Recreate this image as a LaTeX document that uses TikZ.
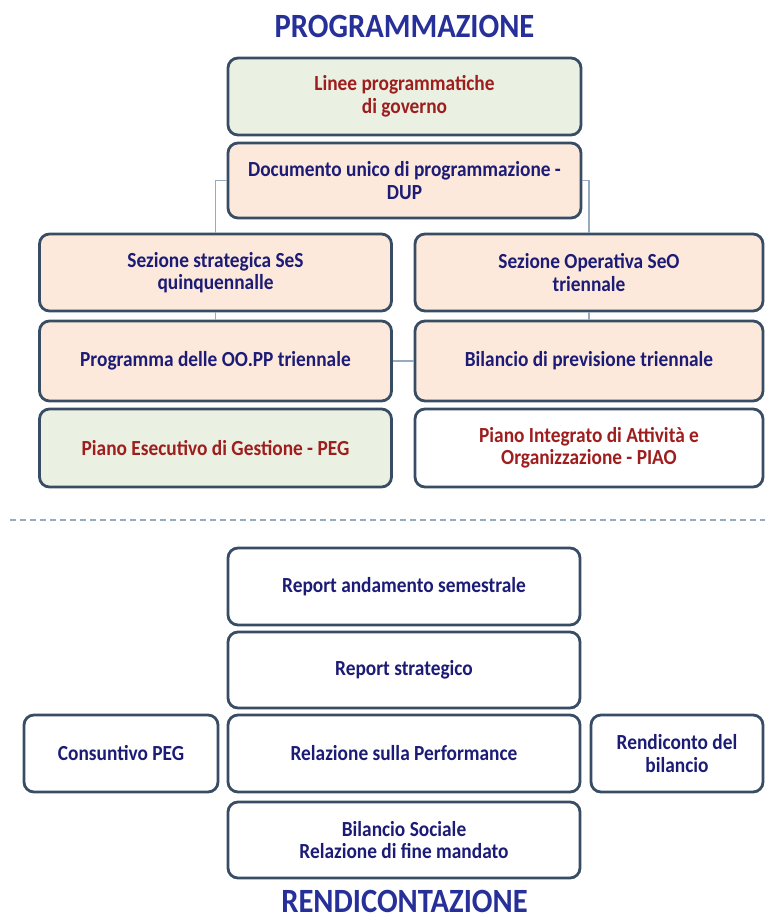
\documentclass[tikz,border=0pt]{standalone}
\usepackage{fontspec}
\setmainfont{Carlito}[FakeStretch=0.9]
\usepackage{xcolor}
\definecolor{boxLine}{RGB}{56,76,100}
\definecolor{navyText}{RGB}{28,28,118}
\definecolor{redText}{RGB}{158,30,30}
\definecolor{titleBlue}{RGB}{38,48,152}
\definecolor{greenFill}{RGB}{234,240,226}
\definecolor{peachFill}{RGB}{252,233,219}
\definecolor{linkLine}{RGB}{150,170,192}
\begin{document}
\begin{tikzpicture}[
  x=1pt, y=-1pt,
  boxStyle/.style={draw=boxLine, line width=2.8pt, rounded corners=10pt, align=center, inner sep=0pt, minimum height=77pt, font=\bfseries\fontsize{21.5}{22.5}\selectfont, text=navyText, fill=white},
  midBox/.style={boxStyle, minimum width=353pt},
  colBox/.style={boxStyle, minimum width=352pt},
  greenBox/.style={fill=greenFill, text=redText},
  peachBox/.style={fill=peachFill},
  linkStyle/.style={draw=linkLine, line width=1.2pt},
  titleStyle/.style={font=\bfseries\fontsize{34}{34}\selectfont, text=titleBlue}]

\useasboundingbox (0,0) rectangle (765,922);

\node [titleStyle] (progTitle) at (404.5,26) {PROGRAMMAZIONE};

\node [midBox, greenBox] (linee) at (404.5,96.5) {Linee programmatiche\\di governo};
\node [midBox, peachBox, minimum height=75pt] (dup) at (404.5,180.5) {Documento unico di programmazione -\\DUP};

\node [colBox, peachBox] (ses) at (215.5,272.5) {Sezione strategica SeS\\quinquennalle};
\node [colBox, peachBox, minimum height=80pt] (oopp) at (215.5,361) {Programma delle OO.PP triennale};
\node [colBox, greenBox, minimum height=78pt] (peg) at (215.5,448) {Piano Esecutivo di Gestione - PEG};

\node [colBox, peachBox, minimum width=348pt] (seo) at (589,272.5) {Sezione Operativa SeO\\triennale};
\node [colBox, peachBox, minimum width=348pt, minimum height=80pt] (bil) at (589,361) {Bilancio di previsione triennale};
\node [colBox, text=redText, minimum width=348pt, minimum height=78pt] (piao) at (589,448) {Piano Integrato di Attività e\\Organizzazione - PIAO};

\draw [linkStyle] (dup.west) -| (ses.north);
\draw [linkStyle] (dup.east) -| (seo.north);
\draw [linkStyle] (ses.south) -- (oopp.north);
\draw [linkStyle] (seo.south) -- (bil.north);
\draw [linkStyle] (oopp.east) -- (bil.west);

\coordinate (dashL) at (10,520);
\coordinate (dashR) at (765,520);
\draw [draw=linkLine, line width=1.5pt, dash pattern=on 6pt off 4pt] (dashL) -- (dashR);

\node [midBox, minimum width=352pt] (semestre) at (404,586.5) {Report andamento semestrale};
\node [midBox, minimum width=352pt, minimum height=76pt] (strategico) at (404,670) {Report strategico};
\node [midBox, minimum width=352pt] (perf) at (404,753.5) {Relazione sulla Performance};
\node [boxStyle, minimum width=194pt] (consPeg) at (121,753.5) {Consuntivo PEG};
\node [boxStyle, minimum width=172pt] (rendic) at (677,753.5) {Rendiconto del\\bilancio};
\node [midBox, minimum width=352pt, minimum height=76pt] (sociale) at (404,840) {Bilancio Sociale\\Relazione di fine mandato};

\node [titleStyle] (rendTitle) at (404.5,901.5) {RENDICONTAZIONE};
\end{tikzpicture}
\end{document}
